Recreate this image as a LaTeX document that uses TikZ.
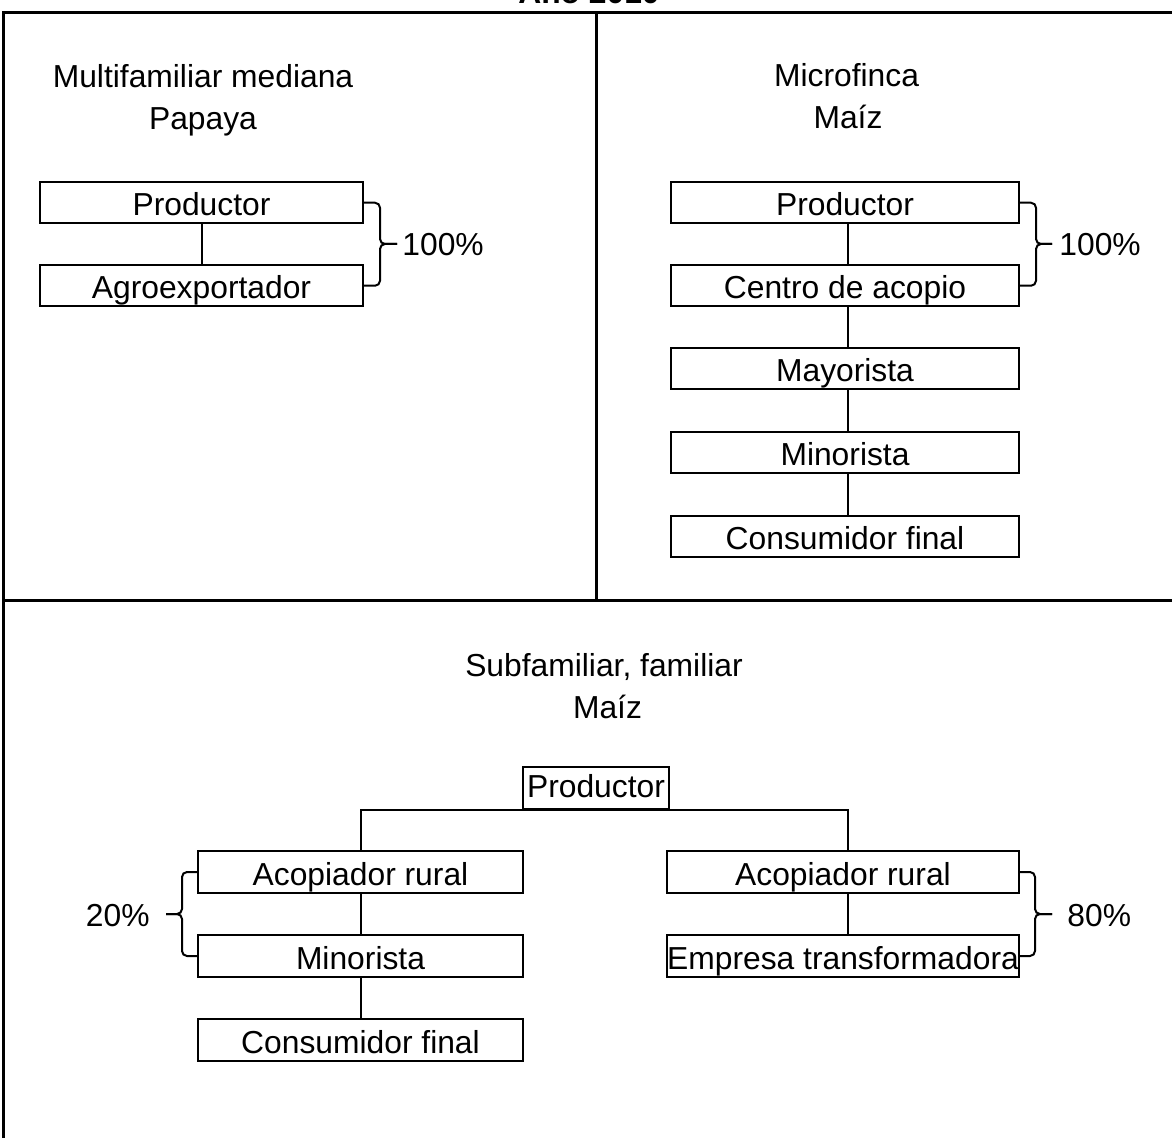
\documentclass[tikz,border=0pt]{standalone}
\usepackage{fontspec}
\setmainfont{Liberation Sans}
\usetikzlibrary{calc}
\begin{document}
\begin{tikzpicture}[x=0.5pt,y=-0.5pt,
  every node/.style={font=\fontsize{15.9pt}{19pt}\selectfont, inner sep=0pt},
  frameline/.style={line width=1.5pt},
  chainbox/.style={draw, line width=1pt, fill=white, inner sep=0pt,
    minimum height=20.75pt, text height=13pt, text depth=0pt},
  topbox/.style={draw, line width=1pt, fill=white, inner sep=0pt,
    minimum height=21pt, text height=11.5pt, text depth=2.5pt},
  conn/.style={line width=1pt},
  bracestyle/.style={line width=1pt, rounded corners=2.5pt},
  heading/.style={anchor=base},
  pct/.style={anchor=base west}]
\useasboundingbox (0,0) rectangle (1172,1138);
% frame
\draw[frameline] (3,1160) -- (3,13) -- (1190,13);
\draw[frameline] (3,600) -- (1190,600);
\draw[frameline] (596,13) -- (596,600);
% title (cut off at top)
\node[heading, font=\fontsize{15.9pt}{19pt}\selectfont\bfseries] (title) at (589,4) {Año 2010};
% ---- left panel
\node[heading] (lh1) at (203,88) {Multifamiliar mediana};
\node[heading] (lh2) at (203,130) {Papaya};
\node[chainbox, minimum width=161.5pt] (lp1) at (201.5,202.75) {Productor};
\node[chainbox, minimum width=161.5pt] (lp2) at (201.5,285.75) {Agroexportador};
\draw[conn] (lp1.south) -- (lp2.north);
\coordinate (b1) at (380,244);
\coordinate (t1) at (397,244);
\draw[bracestyle] (lp1.east) -| (b1) -- (t1);
\draw[bracestyle] (t1) -- (b1) |- (lp2.east);
\node[pct] (lpct) at (402,256) {100\%};
% ---- right panel
\node[heading] (rh1) at (846.5,87) {Microfinca};
\node[heading] (rh2) at (848,129) {Maíz};
\node[chainbox, minimum width=174pt] (rp1) at (845,202.75) {Productor};
\node[chainbox, minimum width=174pt] (rp2) at (845,285.75) {Centro de acopio};
\node[chainbox, minimum width=174pt] (rp3) at (845,368.75) {Mayorista};
\node[chainbox, minimum width=174pt] (rp4) at (845,452.75) {Minorista};
\node[chainbox, minimum width=174pt] (rp5) at (845,536.75) {Consumidor final};
\draw[conn] ([xshift=1.5pt]rp1.south) -- ([xshift=1.5pt]rp2.north);
\draw[conn] ([xshift=1.5pt]rp2.south) -- ([xshift=1.5pt]rp3.north);
\draw[conn] ([xshift=1.5pt]rp3.south) -- ([xshift=1.5pt]rp4.north);
\draw[conn] ([xshift=1.5pt]rp4.south) -- ([xshift=1.5pt]rp5.north);
\coordinate (b2) at (1036,244);
\coordinate (t2) at (1052,244);
\draw[bracestyle] (rp1.east) -| (b2) -- (t2);
\draw[bracestyle] (t2) -- (b2) |- (rp2.east);
\node[pct] (rpct) at (1059,256) {100\%};
% ---- bottom panel
\node[heading] (bh1) at (604,676) {Subfamiliar, familiar};
\node[heading] (bh2) at (607.5,718) {Maíz};
\node[topbox, minimum width=73pt] (bp) at (596,788) {Productor};
\node[chainbox, minimum width=162.5pt] (bl1) at (360.5,872) {Acopiador rural};
\node[chainbox, minimum width=162.5pt] (bl2) at (360.5,956) {Minorista};
\node[chainbox, minimum width=162.5pt] (bl3) at (360.5,1040) {Consumidor final};
\node[chainbox, minimum width=176pt] (br1) at (843,872) {Acopiador rural};
\node[chainbox, minimum width=176pt] (br2) at (843,956) {Empresa transformadora};
\draw[conn] (bl1.north) |- (bp.south) -| ([xshift=2.5pt]br1.north);
\draw[conn] (bl1.south) -- (bl2.north);
\draw[conn] (bl2.south) -- (bl3.north);
\draw[conn] ([xshift=2.5pt]br1.south) -- ([xshift=2.5pt]br2.north);
\coordinate (b3) at (182,914);
\coordinate (t3) at (166,914);
\draw[bracestyle] (bl1.west) -| (b3) -- (t3);
\draw[bracestyle] (t3) -- (b3) |- (bl2.west);
\node[anchor=base east] (lbpct) at (150,926) {20\%};
\coordinate (b4) at (1035,914);
\coordinate (t4) at (1052,914);
\draw[bracestyle] (br1.east) -| (b4) -- (t4);
\draw[bracestyle] (t4) -- (b4) |- (br2.east);
\node[pct] (rbpct) at (1067,926) {80\%};
\end{tikzpicture}
\end{document}
